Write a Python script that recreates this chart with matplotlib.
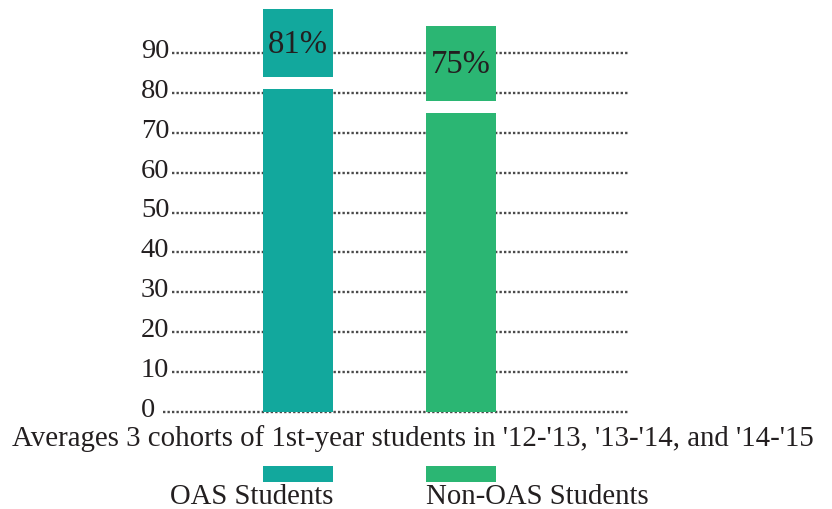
import matplotlib
matplotlib.use("Agg")
import matplotlib.pyplot as plt
from matplotlib.patches import Rectangle

# Data
groups = ["OAS Students", "Non-OAS Students"]
rates = [81, 75]
value_labels = ["81%", "75%"]
tick_values = [0, 10, 20, 30, 40, 50, 60, 70, 80, 90]
caption = "Averages 3 cohorts of 1st-year students in '12-'13, '13-'14, and '14-'15"

colors = ["#12a89d", "#2bb673"]
text_color = "#231f20"
serif = ["Liberation Serif", "DejaVu Serif"]

W, H = 832, 510
fig = plt.figure(figsize=(W / 100, H / 100), dpi=100)

# plot area (pixel geometry converted to figure fractions)
left_px, right_px = 141, 630
top_px, bottom_px = 10, 417
ax = fig.add_axes([left_px / W, (H - bottom_px) / H,
                   (right_px - left_px) / W, (bottom_px - top_px) / H])
ax.set_xlim(-0.9632, 2.0368)
ax.set_ylim(-1.0, 101.0)
ax.axis("off")

positions = list(range(len(groups)))
bar_w = 0.4294

# dotted leader lines for each tick
for v in tick_values:
    x0 = -0.828 if v == 0 else -0.773
    ax.plot([x0, 2.031], [v, v], color="#4a4a4a", lw=1.7,
            linestyle=(0, (1.0, 0.9)), zorder=1, solid_capstyle="butt",
            dash_capstyle="butt")
    ax.text(-0.9632, v - 1.0, str(v), ha="left", va="baseline",
            fontsize=20.5, family=serif, color=text_color, zorder=3)

# bars
ax.bar(positions, rates, width=bar_w, color=colors, zorder=2)

# value boxes above the bars
box_gap, box_h = 3.0, 18.8
for x, r, lab, c in zip(positions, rates, value_labels, colors):
    ax.add_patch(Rectangle((x - bar_w / 2, r + box_gap), bar_w, box_h,
                           facecolor=c, edgecolor="none", zorder=2))
    ymid = min(r + box_gap + box_h / 2, (r + box_gap + 101.0) / 2 - 0.3)
    ax.text(x, ymid, lab, ha="center", va="center", fontsize=23.5,
            family=serif, color=text_color, zorder=3)

# caption under the chart
fig.text(413 / W, 1 - 439 / H, caption, ha="center", va="center",
         fontsize=20.8, family=serif, color=text_color)

# legend row, aligned with the bars
lax = fig.add_axes([left_px / W, 0, (right_px - left_px) / W, 1 - 460 / H])
lax.set_xlim(ax.get_xlim())
lax.set_ylim(50, 0)
lax.axis("off")
for x, c in zip(positions, colors):
    lax.add_patch(Rectangle((x - bar_w / 2, 7), bar_w, 16,
                            facecolor=c, edgecolor="none"))
lax.text(positions[0] + bar_w / 2, 44, groups[0], ha="right", va="baseline",
         fontsize=20.7, family=serif, color=text_color)
lax.text(positions[1] - bar_w / 2, 44, groups[1], ha="left", va="baseline",
         fontsize=20.7, family=serif, color=text_color)

fig.savefig("out.png", dpi=100)
